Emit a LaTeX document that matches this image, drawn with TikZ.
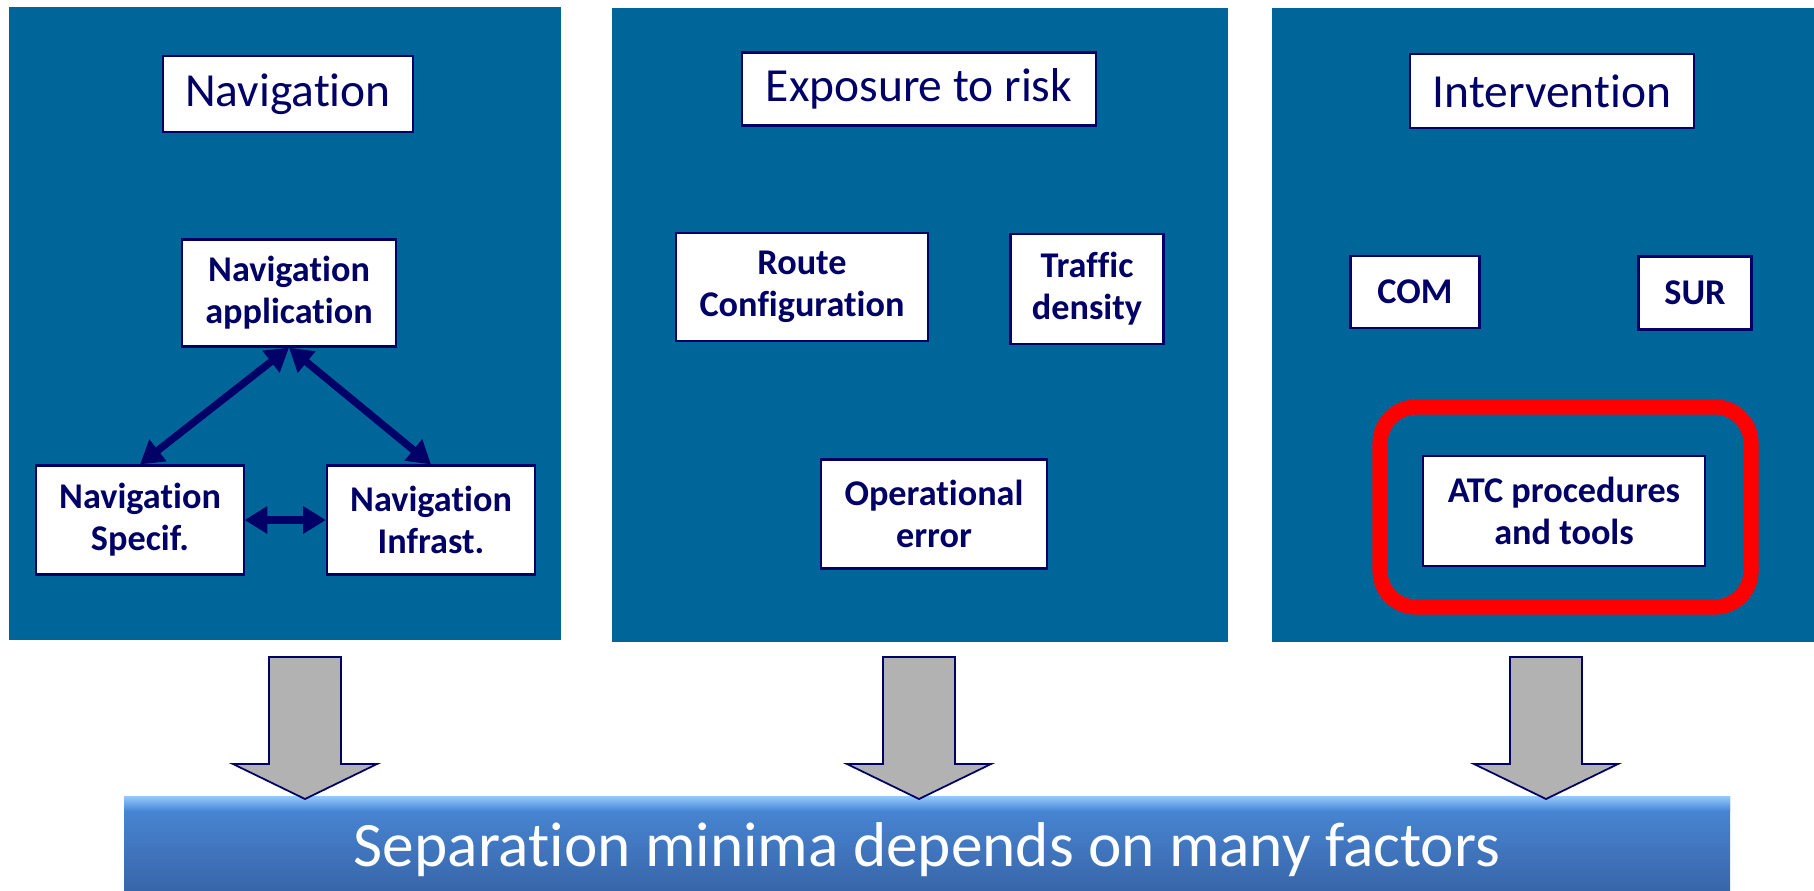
\documentclass[tikz,border=0pt]{standalone}
\usepackage{fontspec}
\setmainfont[Ligatures=NoCommon]{Carlito}
\usetikzlibrary{arrows.meta}
\definecolor{panelblue}{RGB}{0,102,153}
\definecolor{navy}{RGB}{0,0,102}
\definecolor{arrowgrey}{RGB}{178,178,178}
\definecolor{bartop}{RGB}{74,138,216}
\definecolor{barbottom}{RGB}{56,102,170}
\definecolor{barbevel}{RGB}{150,202,250}

\begin{document}
\begin{tikzpicture}[x=0.01cm,y=-0.01cm]
  \tikzstyle{title}=[draw=navy,fill=white,text=navy,line width=0.6pt,inner sep=0pt,font=\fontsize{13.5}{16}\selectfont]
  \tikzstyle{factor}=[draw=navy,fill=white,text=navy,line width=0.6pt,inner sep=0pt,align=center,font=\fontsize{10.3}{12}\selectfont\bfseries]
  \tikzstyle{link}=[navy,line width=2.1pt,{Triangle[length=6.5pt,width=7.5pt]}-{Triangle[length=6.5pt,width=7.5pt]}]
  \tikzstyle{down}=[fill=arrowgrey,draw=navy,line width=0.5pt]
  \useasboundingbox (0,0) rectangle (1814,890);

  \fill[panelblue] (9,7) rectangle (561,640);
  \fill[panelblue] (612,8) rectangle (1228,642);
  \fill[panelblue] (1272,8) rectangle (1814,642);

  \node[title,minimum width=2.5cm,minimum height=0.76cm] (H_nav) at (288,94) {Navigation};
  \node[title,minimum width=3.53cm,minimum height=0.73cm] (H_exp) at (919,89) {Exposure to risk};
  \node[title,minimum width=2.83cm,minimum height=0.74cm] (H_int) at (1552,91) {Intervention};

  \node[factor,minimum width=2.14cm,minimum height=1.07cm] (N_app) at (289,293) {Navigation\\application};
  \node[factor,minimum width=2.07cm,minimum height=1.09cm] (N_spec) at (140,520) {Navigation\\Specif.};
  \node[factor,minimum width=2.08cm,minimum height=1.09cm] (N_infra) at (431,520) {Navigation\\Infrast.};
  \draw[link] (N_app.south) -- (N_spec.north);
  \draw[link] (N_app.south) -- (N_infra.north);
  \draw[link] (N_spec.east) -- (N_infra.west);

  \node[factor,minimum width=2.51cm,minimum height=1.08cm] (E_route) at (802,287) {Route\\Configuration};
  \node[factor,minimum width=1.53cm,minimum height=1.1cm] (E_traffic) at (1087,289) {Traffic\\density};
  \node[factor,minimum width=2.25cm,minimum height=1.09cm] (E_error) at (934,514) {Operational\\error};

  \node[factor,minimum width=1.29cm,minimum height=0.72cm] (I_com) at (1415,292) {COM};
  \node[factor,minimum width=1.13cm,minimum height=0.73cm] (I_sur) at (1695,293) {SUR};
  \node[factor,minimum width=2.81cm,minimum height=1.1cm] (I_atc) at (1564,511) {ATC procedures\\and tools};
  \draw[red,line width=4.3pt,rounded corners=0.36cm] (1380,407) rectangle (1751,607);

  \shade[top color=bartop,bottom color=barbottom] (124,796) rectangle (1730,890);
  \shade[top color=barbevel,bottom color=bartop] (124,796) rectangle (1730,810);
  \node[text=white,anchor=base,inner sep=0pt,font=\fontsize{18}{22}\selectfont] (S_bar) at (927,866) {Separation minima depends on many factors};

  \foreach \x in {305,919,1546}
    \draw[down] (\x-36,657) -- (\x+36,657) -- (\x+36,764) -- (\x+72,764) -- (\x,799) -- (\x-72,764) -- (\x-36,764) -- cycle;
\end{tikzpicture}
\end{document}
